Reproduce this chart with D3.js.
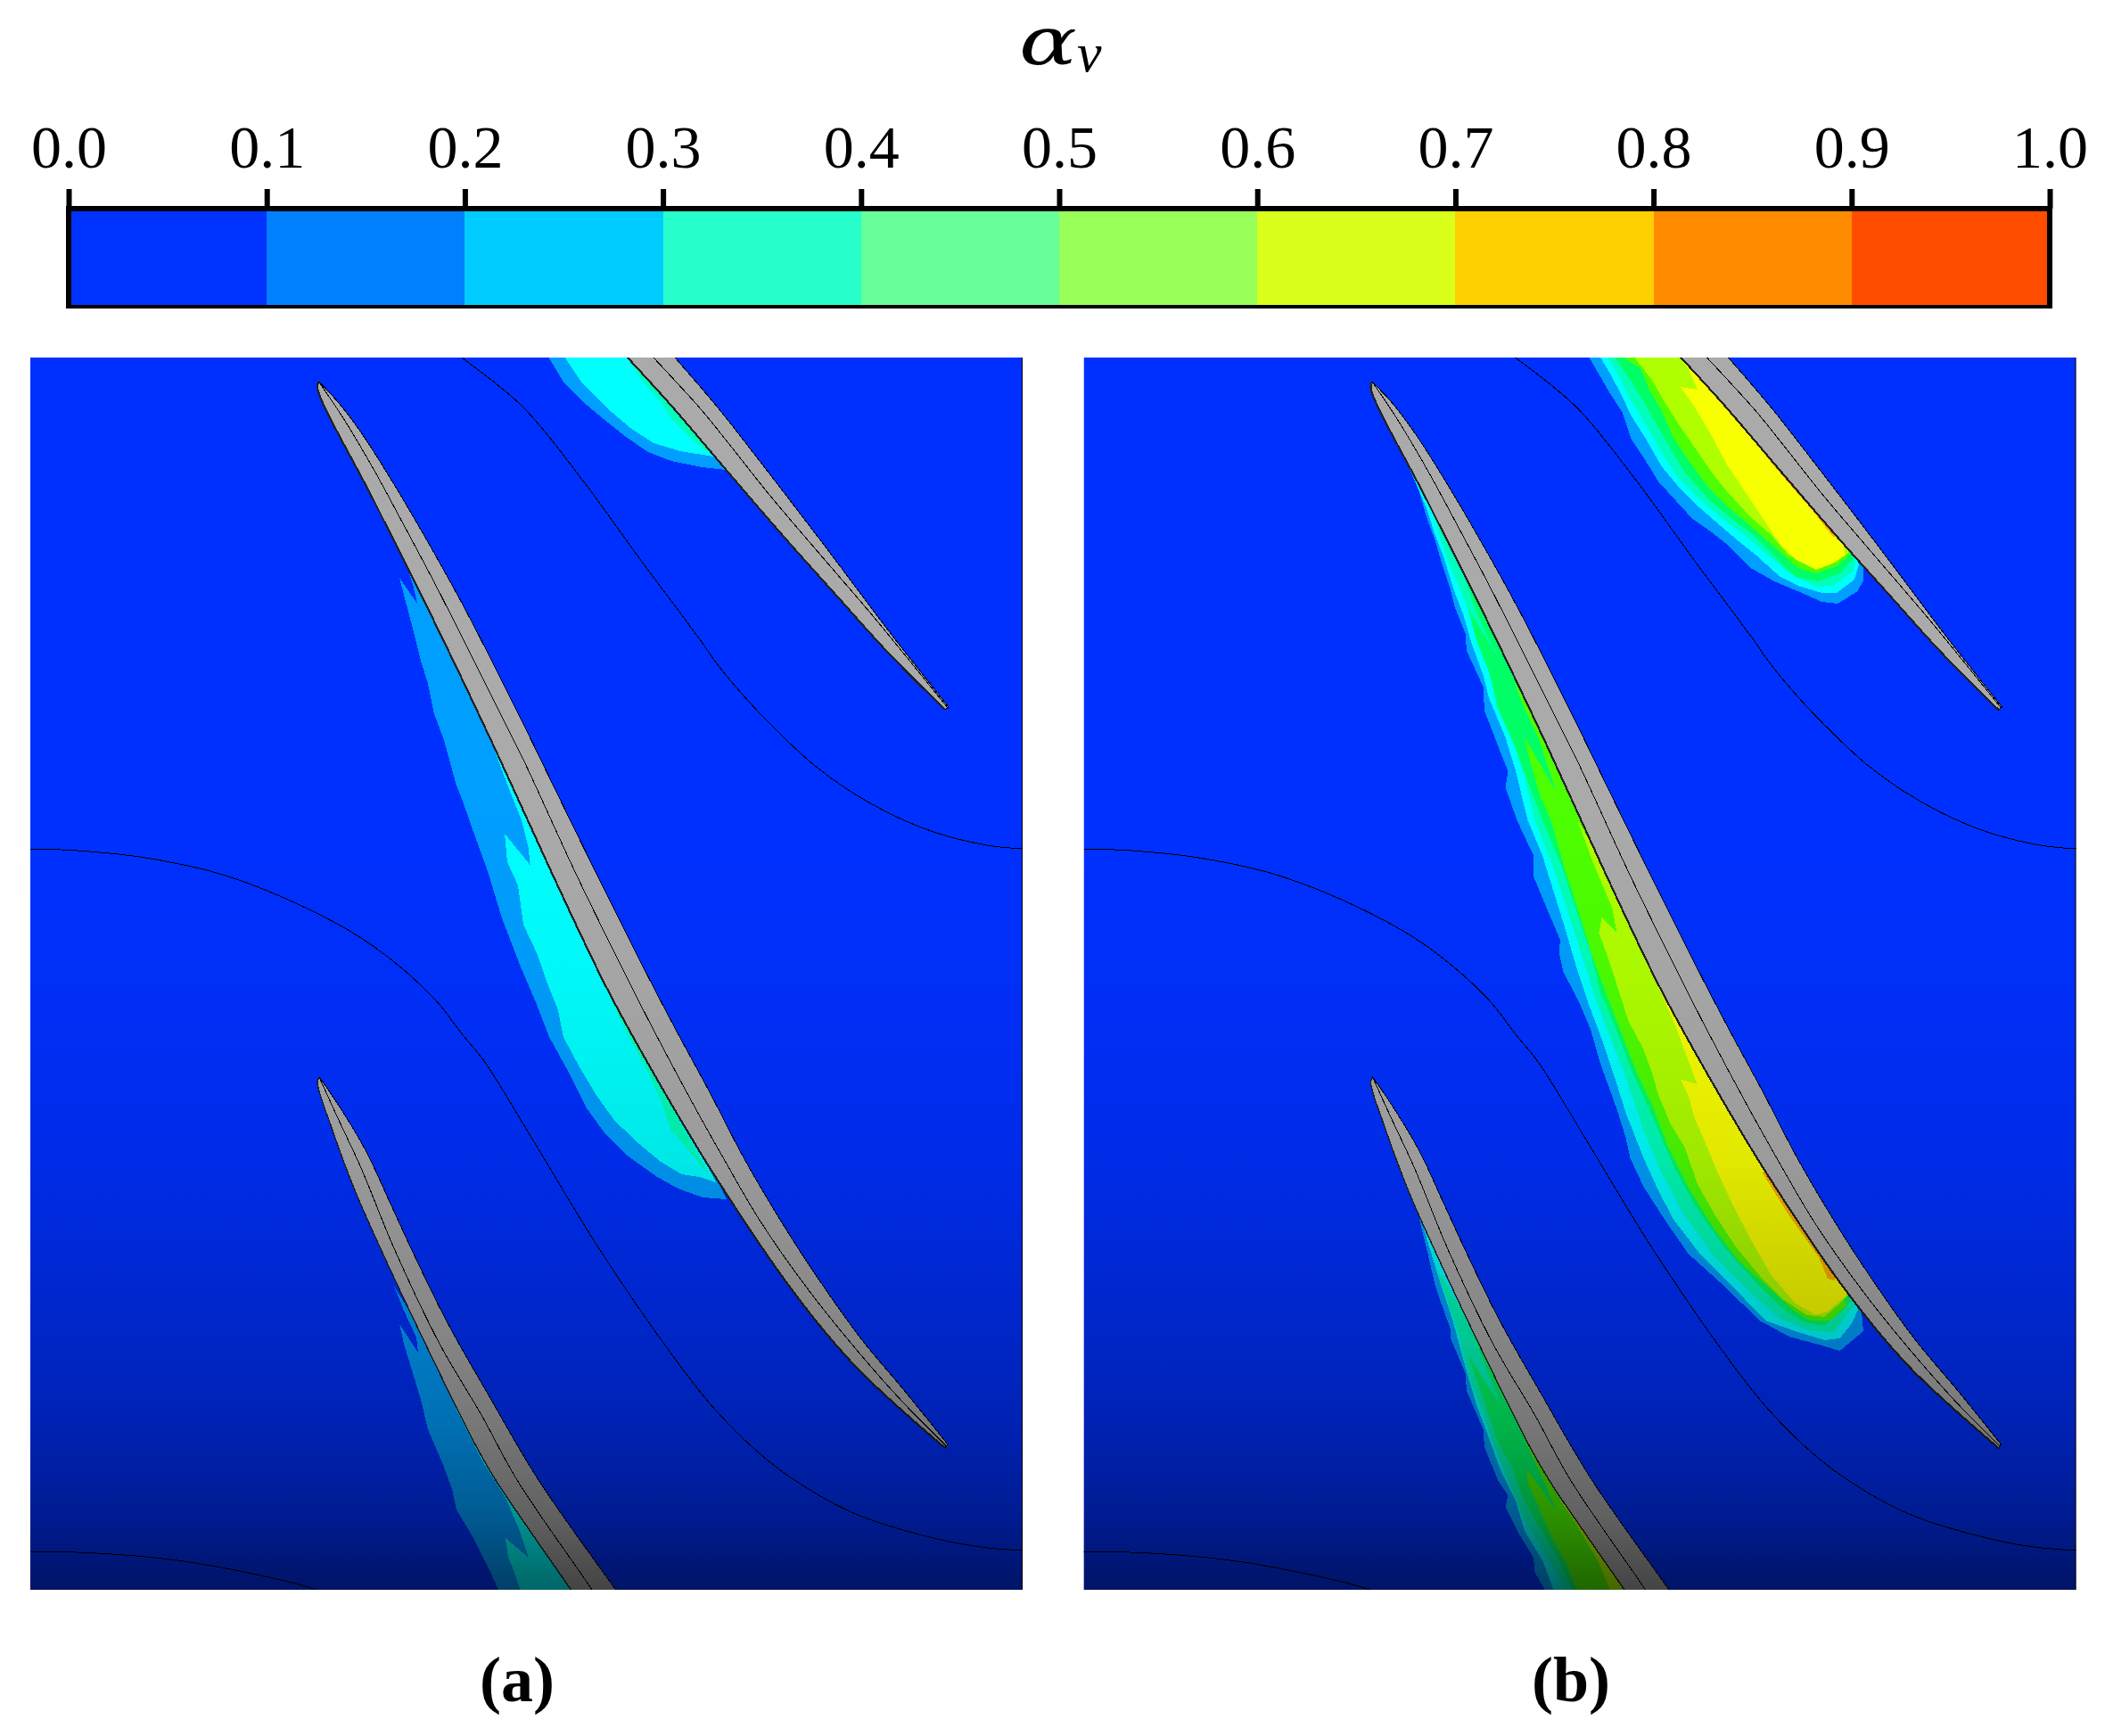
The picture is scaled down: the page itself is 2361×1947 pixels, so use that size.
<!DOCTYPE html>
<html>
<head>
<meta charset="utf-8">
<script src="https://cdn.jsdelivr.net/npm/d3@7"></script>
<style>
html,body{margin:0;padding:0;background:#fff;}
svg{display:block;}
text{font-family:"Liberation Serif",serif;fill:#000;}
</style>
</head>
<body>
<svg id="chart" width="2361" height="1947"></svg>
<script>
// ---- colour bar ----
const tickValues = [0,0.1,0.2,0.3,0.4,0.5,0.6,0.7,0.8,0.9,1.0];
const legendColors = ["#0033ff","#0080ff","#00ccff","#26ffcc","#66ff99","#99ff59","#d9ff1a","#ffd000","#ff8c00","#ff4d00"];
// contour band colours used inside the two fields
const bandColors = ["#009eff","#00ffff","#00ffbb","#00ff66","#4dff00","#b0ff00","#f8ff00","#ffb000"];
const titleMain = "α", titleSub = "v";
const panelLabels = ["(a)","(b)"];

// ---- light falloff along the field (field y, black alpha) ----
const shadeY     = [401, 900, 1100, 1300, 1400, 1500, 1600, 1700, 1783];
const shadeAlpha = [0,   0,   0.03, 0.09, 0.16, 0.22, 0.30, 0.43, 0.60];

// ---- geometry: field coordinates ----
const topLeft    = [[680,375],[703,400],[753,455],[823,537],[880,603],[940,670],[997,733],[1060,796]];
const topRight   = [[735,376],[757,401],[805,457],[852,517],[902,582],[940,632],[997,708],[1064,793]];
const topCamber  = [[708,375],[732,400],[787,460],[817,497],[863,555],[920,622],[980,692],[1063,794]];
const midLeft    = [[357.7,428.3],[356,435],[420,563],[487,697],[553,835],[618,977],[680,1107],[735,1207],[800,1316],[893,1453],[960,1533],[1060,1624]];
const midRight   = [[357.7,428.3],[380,452],[407,488],[440,540],[480,608],[520,680],[553,744],[587,812],[622,884],[670,982],[717,1076],[757,1153],[796,1225],[835,1300],[875,1368],[917,1433],[967,1503],[1013,1558],[1063,1620]];
const midCamber  = [[357.7,428.3],[386.7,471.7],[420,528],[453,589],[487,653],[520,718],[553,784],[587,852],[646,980],[693,1076],[733,1155],[780,1243],[812,1300],[853,1370],[907,1447],[960,1513],[1013,1573],[1061.7,1622]];
const lowLeft    = [[358,1208],[356,1214],[372,1265],[398,1335],[426.7,1400],[480,1513],[533,1620],[556,1660],[598,1722],[640.5,1783],[658,1808]];
const lowRight   = [[358,1208],[380,1240],[410,1290],[438,1350],[461,1400],[500,1480],[547,1563],[604,1660],[690.5,1783],[708,1808]];
const lowCamber  = [[358,1208],[378,1252],[405,1310],[442,1400],[493,1507],[540,1587],[580,1660],[664,1783],[680,1808]];
const channelOne   = [[500,388],[518,401],[586.7,456.7],[653,538],[720,630],[787,720],[803,743],[840,787],[880,828],[913,858],[953,887],[997,912],[1047,933],[1107,948],[1147,952]];
const channelTwo   = [[34,952],[87,954],[163,962],[253,982],[353,1023],[420,1062],[487,1120],[520,1162],[543,1190],[598.6,1280],[671.7,1400],[760,1528],[803,1582],[860,1637],[910,1672],[962,1699],[1047,1725],[1100,1735],[1147,1739]];
const channelThree = [[34,1740],[109,1742],[198.6,1750],[288,1766],[355,1783],[370,1790]];

// ---- field (a) contours, outermost band first ----
const aTop1 = [[615,392],[615,400],[633,430],[653,450],[677,470],[702,490],[727,507],[753,517],[787,524],[815,527],[825,515],[730,392]];
const aTop2 = [[633,392],[633,400],[653,430],[680,457],[707,480],[733,497],[763,506],[800,512],[815,515],[730,392]];
const aTop3 = [[703,392],[703,400],[720,427],[743,453],[753,470],[770,487],[793,507],[800,505],[730,392]];
const aMid1 = [[425,570],[436.7,597],[448,620],[453,627],[463,655],[468,677],[448,648],[453,667],[461.7,700],[471.7,740],[480,767],[486.7,800],[498,830],[508,867],[511.6,880],[519.5,900],[531,933],[547,977],[563,1030],[585,1087],[600.6,1123],[616,1163],[638,1203],[658,1243],[677.6,1270],[705,1297],[737,1320],[760.6,1333],[788,1343],[815,1345]];
const aMid2 = [[520,767],[533,793],[553,837],[569,880],[585,920],[592.6,950],[594.6,970],[566,935],[569,967],[581,993],[587,1037],[602.5,1070],[614,1103],[626,1133],[632,1163],[650,1197],[670,1230],[689.5,1257],[717,1283],[741,1303],[764.6,1317],[784,1320],[803,1326]];
const aMid3 = [[673.7,1093],[695,1143],[725,1200],[741,1233],[749,1257],[753,1268],[772.5,1290],[795,1318]];
const aLow1 = [[441.7,1442],[453,1470],[467,1500],[469,1517],[448,1485],[453,1507],[460,1530],[472,1570],[480,1603],[497,1643],[507,1670],[512,1693],[530,1723],[550,1763],[562,1790],[655,1790]];
const aLow2 = [[510,1577],[540,1637],[567,1680],[583,1717],[593,1747],[567,1725],[570,1747],[577,1763],[586,1790],[655,1790]];

// ---- field (b) contours, outermost band first ----
const bTop1 = [[601,392],[601,401],[612,420],[623.5,440],[638.5,463],[648.5,493],[662,513],[678.5,540],[698.5,562],[717,582],[738.5,597],[758.5,613],[782,637],[808.5,652],[835,663],[862,675],[880,677],[902,663],[909,650],[908,637],[920,640],[880,580],[730,392]];
const bTop2 = [[613.5,392],[613.5,401],[625,420],[637,443],[648.5,467],[665,493],[682,523],[702,547],[722,567],[745,587],[768.5,607],[788.5,623],[815,647],[835,657],[862,665],[878.5,665],[898.5,650],[903.5,633],[880,580],[730,392]];
const bTop3 = [[622,392],[622,401],[635,423],[648.5,450],[665,477],[682,507],[702,537],[725,560],[752,583],[775,600],[802,623],[825,643],[855,658],[875,657],[897,640],[900,628],[880,580],[730,392]];
const bTop4 = [[630,392],[630,401],[645,423],[660,447],[675,473],[692,503],[708.5,530],[735,560],[762,583],[785,600],[808.5,623],[832,647],[858.5,652],[882,643],[897,627],[880,580],[730,392]];
const bTop5 = [[639.5,392],[639.5,401],[658.5,413],[668.5,437],[682,460],[695,490],[715,520],[735,547],[755,567],[782,590],[808.5,613],[835,637],[855,643],[878.5,635],[893.5,622],[880,580],[730,392]];
const bTop6 = [[652,392],[652,401],[672,427],[685,450],[702,477],[720,503],[738.5,530],[757,553],[782,580],[805,600],[825,623],[855,638],[878.5,630],[892,620],[880,580],[730,392]];
const bTop7 = [[703.5,392],[703.5,401],[712,413],[722.5,437],[703.5,434],[717,453],[735,483],[755,520],[775,550],[795,580],[815,610],[832,627],[855,639],[872,633],[888.5,622],[880,580],[760,430]];
const bTop8 = [[785,493],[808.5,523],[832,550],[855,577],[867,593],[875,602],[885,600],[850,540],[800,480]];
const bMid1 = [[391,505],[400,528],[410,550],[418.5,580],[428.5,607],[435,630],[445,660],[450,680],[462,710],[463.5,730],[482,770],[483.5,797],[500,840],[510,865],[507,883],[520,920],[538.5,959.5],[538.5,983],[558.5,1031],[568.5,1054],[567,1068],[572,1090],[588.5,1121.6],[602,1153],[613.5,1193],[632,1244],[642,1276],[647,1299],[662,1331],[685,1367],[712,1406],[752,1442],[792,1481],[825,1499],[862,1509],[882,1515],[908.5,1493],[907,1477],[906,1469]];
const bMid2 = [[397,517],[407,543],[418.5,570],[427,597],[438.5,627],[448.5,660],[460,690],[468.5,720],[482,757],[488.5,783],[507,827],[518.5,865],[532,920],[548.5,959.5],[557,987],[572,1035],[587,1086],[600,1125.5],[613.5,1161],[628.5,1205],[642,1248],[662,1299],[678.5,1335],[695,1367],[725,1406],[765,1446],[798.5,1481],[832,1493],[865,1503],[882,1501],[895,1485],[903.5,1467]];
const bMid3 = [[410,547],[425,573],[435,607],[448.5,643],[465,683],[475,720],[492,763],[497,793],[518.5,840],[528.5,873],[540,920],[560,971],[578.5,1027],[595,1078],[608.5,1121.6],[625,1165],[642,1208.5],[662,1268],[682,1315],[705,1359],[738.5,1406],[782,1450],[815,1479],[845,1491],[875,1495],[888.5,1477],[898.5,1463]];
const bMid4 = [[461.5,650],[475,687],[485,710],[505,747],[465,682],[475,720],[488.5,753],[498.5,793],[515,830],[528.5,867],[548.5,920],[570,971],[588.5,1027],[602,1066],[613.5,1114],[632,1157],[648.5,1200.6],[675,1260],[695,1307],[718.5,1351],[755,1402],[795,1446],[822,1471],[842,1483],[865,1487],[888.5,1467],[895,1457.5]];
const bMid5 = [[515,760],[525,787],[545,830],[563.5,887],[528.5,827],[532,843],[545,890],[558,920],[575,979],[592,1031],[605,1074],[618.5,1110],[635,1153],[655,1204.6],[672,1240],[688.5,1283.6],[712,1331],[738.5,1374.5],[768.5,1414],[808.5,1450],[832,1471],[848.5,1481],[872,1481],[890,1463.5]];
const bMid6 = [[588,920],[605,967],[627,1019],[632,1046.5],[615,1029],[612,1046.5],[623.5,1078],[635,1114],[645,1145],[662,1177],[672,1204.6],[678.5,1228],[692,1260],[708.5,1287.6],[722,1327],[742,1362.7],[765,1398],[795,1434],[818.5,1457.5],[845,1475],[865,1477],[887,1457.5],[893,1450]];
const bMid7 = [[662,1070],[682,1114],[698.5,1153],[712,1189],[722,1216],[703.5,1210.5],[712,1228],[718.5,1252],[732,1283.6],[745,1315],[762,1351],[782,1390],[805,1430],[832,1461.5],[855,1475],[868.5,1471],[888.5,1453.6],[893,1445]];
const bMid8 = [[795,1315],[825,1363],[858.5,1410],[868.5,1434],[875,1436],[885,1430],[850,1370],[810,1310]];
const bLow1 = [[399,1325],[405,1345],[418.5,1400],[428.5,1443],[445,1490],[445,1500],[462,1540],[463.5,1560],[482,1603],[483.5,1623],[498.5,1660],[510,1677],[507,1690],[522,1720],[538.5,1747],[540,1763],[555,1790],[655,1790]];
const bLow2 = [[412,1365],[422,1400],[433.5,1437],[448.5,1483],[462,1533],[475,1577],[488.5,1613],[502,1650],[518.5,1683],[528.5,1717],[548.5,1750],[563.5,1790],[655,1790]];
const bLow3 = [[430,1423],[438.5,1450],[455,1497],[465,1540],[483.5,1590],[495,1623],[510,1660],[525,1697],[545,1733],[562,1760],[575,1790],[655,1790]];
const bLow4 = [[470,1495],[480,1520],[490,1545],[502,1577],[465,1520],[488.5,1587],[498.5,1617],[515,1647],[525,1677],[545,1713],[565,1747],[585,1790],[655,1790]];
const bLow5 = [[525,1607],[545,1650],[563.5,1693],[531,1648],[532,1663],[545,1693],[558.5,1723],[575,1753],[590,1790],[655,1790]];
const bLow6 = [[565,1677],[585,1707],[612,1753],[627,1790],[655,1790]];

const contoursA = [[aTop1,0],[aTop2,1],[aTop3,2],[aMid1,0],[aMid2,1],[aMid3,2],[aLow1,0],[aLow2,1]];
const contoursB = [[bTop1,0],[bTop2,1],[bTop3,2],[bTop4,3],[bTop5,4],[bTop6,5],[bTop7,6],[bTop8,7],
                   [bMid1,0],[bMid2,1],[bMid3,2],[bMid4,3],[bMid5,4],[bMid6,5],[bMid7,6],[bMid8,7],
                   [bLow1,0],[bLow2,1],[bLow3,2],[bLow4,3],[bLow5,4],[bLow6,5]];
const blades = [[topLeft,topRight,topCamber,2.2],[midLeft,midRight,midCamber,2.2],[lowLeft,lowRight,lowCamber,1.4]];
const channels = [channelOne,channelTwo,channelThree];

const svg = d3.select("#chart");
const defs = svg.append("defs");

// ---- colour bar through a scale and axis ----
const barScale = d3.scaleLinear().domain([0,1]).range([77,2299]);
const barTop = 234, barBottom = 344;
const bar = svg.append("g");
bar.selectAll("rect").data(legendColors).join("rect")
  .attr("x",(d,i)=>barScale(tickValues[i]))
  .attr("width",(d,i)=>barScale(tickValues[i+1])-barScale(tickValues[i]))
  .attr("y",barTop).attr("height",barBottom-barTop)
  .attr("fill",d=>d).attr("shape-rendering","crispEdges");
bar.append("path")
  .attr("d",`M${barScale(0)},${barTop}H${barScale(1)}`).attr("stroke","#000").attr("stroke-width",6);
bar.append("path")
  .attr("d",`M${barScale(0)-3},${barBottom}H${barScale(1)+3}`).attr("stroke","#000").attr("stroke-width",4);
bar.append("path")
  .attr("d",`M${barScale(0)},${barTop-3}V${barBottom}M${barScale(1)},${barTop-3}V${barBottom}`).attr("stroke","#000").attr("stroke-width",6).attr("fill","none");
const axis = d3.axisTop(barScale).tickValues(tickValues).tickSize(22).tickSizeOuter(0).tickPadding(24).tickFormat(d3.format(".1f"));
const axG = svg.append("g").attr("transform",`translate(0,${barTop})`).call(axis);
axG.select(".domain").remove();
axG.selectAll("line").attr("stroke","#000").attr("stroke-width",6);
axG.selectAll("text").attr("font-family","'Liberation Serif',serif").attr("font-size",68).attr("fill","#000");

// ---- title ----
svg.append("text").attr("transform","translate(1143,72) scale(1.28,1)").attr("font-size",75).attr("font-style","italic")
  .style("font-family","'DejaVu Serif',serif").text(titleMain);
svg.append("text").attr("x",1208).attr("y",80).attr("font-size",62).attr("font-style","italic").text(titleSub);

// ---- fields ----
const yScale = d3.scaleLinear().domain([401,1783]).range([401,1783]);
const gradId = "falloff";
const grad = defs.append("linearGradient").attr("id",gradId).attr("x1",0).attr("x2",0).attr("y1",0).attr("y2",1);
grad.selectAll("stop").data(shadeY).join("stop")
  .attr("offset",d=>(d-401)/(1783-401))
  .attr("stop-color","#000")
  .attr("stop-opacity",(d,i)=>shadeAlpha[i]);

function field(idx,left,right,contours){
  const xScale = d3.scaleLinear().domain([34,1147]).range([left,right]);
  const clip = "clip"+idx;
  defs.append("clipPath").attr("id",clip).append("rect")
    .attr("x",left).attr("y",yScale(401)).attr("width",right-left).attr("height",yScale(1783)-yScale(401));
  const g = svg.append("g").attr("clip-path",`url(#${clip})`);
  const poly = d3.line().x(d=>xScale(d[0])).y(d=>yScale(d[1])).curve(d3.curveLinearClosed);
  const smooth = d3.line().x(d=>xScale(d[0])).y(d=>yScale(d[1])).curve(d3.curveCatmullRom.alpha(0.5));
  const smoothClosed = (l,r)=> smooth(l) + "L" + smooth(r.slice().reverse()).slice(1) + "Z";
  g.append("rect").attr("x",left).attr("y",yScale(401)).attr("width",right-left).attr("height",yScale(1783)-yScale(401)).attr("fill","#0030ff");
  g.selectAll("path.band").data(contours).join("path").attr("class","band")
    .attr("d",d=>poly(d[0])).attr("fill",d=>bandColors[d[1]]).attr("shape-rendering","crispEdges");
  blades.forEach(b=>{
    g.append("path").attr("d",smoothClosed(b[0],b[1])).attr("fill","#aaaaaa").attr("stroke","#000").attr("stroke-width",1).attr("shape-rendering","crispEdges");
    g.append("path").attr("d",smooth(b[0])).attr("fill","none").attr("stroke","#222").attr("stroke-width",b[3]).attr("shape-rendering","crispEdges");
    g.append("path").attr("d",smooth(b[2])).attr("fill","none").attr("stroke","#000").attr("stroke-width",1).attr("shape-rendering","crispEdges");
  });
  g.selectAll("path.chan").data(channels).join("path").attr("class","chan")
    .attr("d",smooth).attr("fill","none").attr("stroke","#000").attr("stroke-width",1).attr("shape-rendering","crispEdges");
  g.append("rect").attr("x",left).attr("y",yScale(401)).attr("width",right-left).attr("height",yScale(1783)-yScale(401)).attr("fill",`url(#${gradId})`);
  svg.append("path").attr("d",`M${right-0.5},${yScale(401)}V${yScale(1783)}`).attr("stroke","#000").attr("stroke-width",1);
}
field(0,34,1147,contoursA);
field(1,1215.5,2328.5,contoursB);

// ---- panel labels ----
svg.selectAll("text.panel").data(panelLabels).join("text").attr("class","panel")
  .attr("x",(d,i)=>[580,1762][i]).attr("y",1908).attr("text-anchor","middle")
  .attr("font-size",72).attr("font-weight","bold").text(d=>d);
</script>
</body>
</html>
